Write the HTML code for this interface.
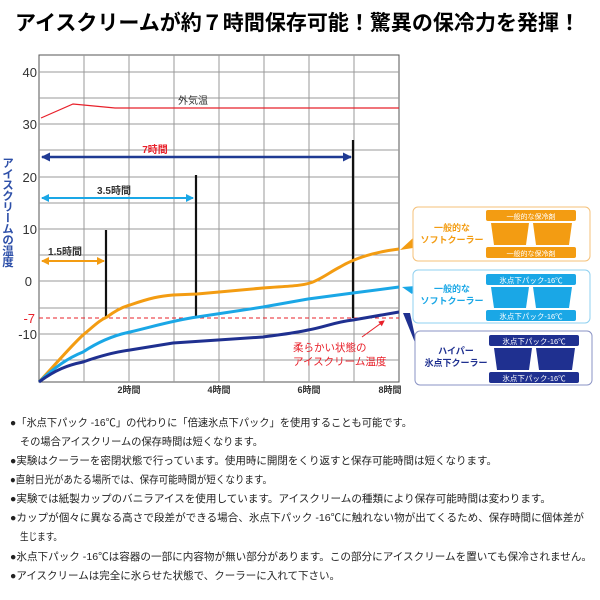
<!DOCTYPE html>
<html><head><meta charset="utf-8"><style>
html,body{margin:0;padding:0;background:#fff;width:600px;height:600px;overflow:hidden}
svg{display:block;font-family:"Liberation Sans","Noto Sans CJK JP",sans-serif}
</style></head><body>
<svg width="600" height="600" viewBox="0 0 600 600" xmlns="http://www.w3.org/2000/svg">
<defs>
<marker id="aN" markerUnits="userSpaceOnUse" markerWidth="9" markerHeight="9" refX="8" refY="4.5" orient="auto-start-reverse"><path d="M0,0L9,4.5L0,9z" fill="#1f3a93"/></marker>
<marker id="aB" markerUnits="userSpaceOnUse" markerWidth="8" markerHeight="8" refX="7" refY="4" orient="auto-start-reverse"><path d="M0,0L8,4L0,8z" fill="#1aa7e6"/></marker>
<marker id="aO" markerUnits="userSpaceOnUse" markerWidth="8" markerHeight="8" refX="7" refY="4" orient="auto-start-reverse"><path d="M0,0L8,4L0,8z" fill="#f39c12"/></marker>
<marker id="aR" markerUnits="userSpaceOnUse" markerWidth="6" markerHeight="6" refX="5" refY="3" orient="auto"><path d="M0,0L6,3L0,6z" fill="#e8202a"/></marker>
</defs>
<text x="15" y="30" font-size="21" font-weight="bold" textLength="565" lengthAdjust="spacingAndGlyphs">アイスクリームが約７時間保存可能！驚異の保冷力を発揮！</text>
<rect x="39" y="55" width="360" height="327" fill="#fff" stroke="#555" stroke-width="1"/>
<g stroke="#999" stroke-width="1">
<line x1="84" y1="55" x2="84" y2="382"/><line x1="129" y1="55" x2="129" y2="382"/><line x1="174" y1="55" x2="174" y2="382"/><line x1="219" y1="55" x2="219" y2="382"/><line x1="264" y1="55" x2="264" y2="382"/><line x1="309" y1="55" x2="309" y2="382"/><line x1="354" y1="55" x2="354" y2="382"/>
<line x1="39" y1="72" x2="399" y2="72"/><line x1="39" y1="98" x2="399" y2="98"/><line x1="39" y1="124" x2="399" y2="124"/><line x1="39" y1="150" x2="399" y2="150"/><line x1="39" y1="177" x2="399" y2="177"/><line x1="39" y1="203" x2="399" y2="203"/><line x1="39" y1="229" x2="399" y2="229"/><line x1="39" y1="255" x2="399" y2="255"/><line x1="39" y1="281" x2="399" y2="281"/><line x1="39" y1="308" x2="399" y2="308"/><line x1="39" y1="334" x2="399" y2="334"/><line x1="39" y1="360" x2="399" y2="360"/>
</g>
<g font-size="13" fill="#333" text-anchor="end">
<text x="37" y="77">40</text><text x="37" y="129">30</text><text x="37" y="182">20</text><text x="37" y="234">10</text><text x="32" y="286">0</text><text x="37" y="339">-10</text>
</g>
<text x="35" y="323" font-size="13" fill="#e8202a" text-anchor="end">-7</text>
<text x="7" y="157" font-size="11.5" fill="#2d4fa8" font-weight="bold" style="writing-mode:tb" letter-spacing="-0.5">アイスクリームの温度</text>
<g font-size="9" font-weight="bold" fill="#333" text-anchor="middle">
<text x="129" y="393">2時間</text><text x="219" y="393">4時間</text><text x="309" y="393">6時間</text><text x="390" y="393">8時間</text>
</g>
<polyline points="41,118 73,104 115,108 399,108" fill="none" stroke="#e8202a" stroke-width="1.2"/>
<text x="193" y="104" font-size="10" fill="#333" text-anchor="middle">外気温</text>
<line x1="39" y1="318" x2="399" y2="318" stroke="#e8202a" stroke-width="1" stroke-dasharray="4,3"/>
<line x1="42" y1="157" x2="351" y2="157" stroke="#1f3a93" stroke-width="2.5" marker-start="url(#aN)" marker-end="url(#aN)"/>
<text x="155" y="153" font-size="10" font-weight="bold" fill="#e8202a" text-anchor="middle">7時間</text>
<line x1="42" y1="198" x2="193" y2="198" stroke="#1aa7e6" stroke-width="2" marker-start="url(#aB)" marker-end="url(#aB)"/>
<text x="114" y="194" font-size="10" font-weight="bold" fill="#333" text-anchor="middle">3.5時間</text>
<line x1="42" y1="261" x2="104" y2="261" stroke="#f39c12" stroke-width="2" marker-start="url(#aO)" marker-end="url(#aO)"/>
<text x="65" y="255" font-size="10" font-weight="bold" fill="#333" text-anchor="middle">1.5時間</text>
<g stroke="#111" stroke-width="2.2">
<line x1="106" y1="230" x2="106" y2="318"/><line x1="196" y1="175" x2="196" y2="318"/><line x1="353" y1="140" x2="353" y2="318"/>
</g>
<path d="M39,382 C55,365 70,347 83,335 C95,325 100,320 107,317 C115,311 122,307 130,305 C150,298 160,296 173,295 L197,294 L263,288 C290,286 300,286 310,283 C320,280 330,272 340,267 C355,258 375,252 399,249" fill="none" stroke="#f39c12" stroke-width="3"/>
<path d="M39,382 C55,367 68,358 83,352 C95,344 110,336 130,332 C155,326 175,320 197,317 L263,307 L308,299 L353,293 L399,287" fill="none" stroke="#1aa7e6" stroke-width="3"/>
<path d="M39,382 C55,370 68,365 83,362 C100,356 115,352 130,350 L173,343 L218,340 L263,337 C285,334 295,333 308,330 C325,327 335,322 353,320 L399,312" fill="none" stroke="#1f3090" stroke-width="3"/>
<line x1="362" y1="337" x2="384" y2="321" stroke="#e8202a" stroke-width="1" marker-end="url(#aR)"/>
<text x="293" y="351" font-size="10.5" fill="#e8202a">柔らかい状態の</text>
<text x="293" y="365" font-size="10.5" fill="#e8202a">アイスクリーム温度</text>
<polygon points="400,250 413,238 413,248" fill="#f39c12"/>
<rect x="413" y="207" width="177" height="54" rx="5" fill="#fff" stroke="#f5c17a"/>
<text x="452" y="231" font-size="9" font-weight="bold" fill="#f39c12" text-anchor="middle">一般的な</text>
<text x="452" y="243" font-size="9" font-weight="bold" fill="#f39c12" text-anchor="middle">ソフトクーラー</text>
<rect x="486" y="210" width="90" height="11" rx="2" fill="#f39c12"/>
<path d="M491,223 H529 L526,245 H494Z M533,223 H572 L569,245 H536Z" fill="#f39c12"/>
<rect x="486" y="247" width="90" height="11" rx="2" fill="#f39c12"/>
<text x="531" y="219" font-size="7" fill="#fff" text-anchor="middle">一般的な保冷剤</text>
<text x="531" y="256" font-size="7" fill="#fff" text-anchor="middle">一般的な保冷剤</text>
<polygon points="402,287 416,286 412,294" fill="#1aa7e6"/>
<rect x="413" y="270" width="177" height="53" rx="5" fill="#fff" stroke="#8fd0f0"/>
<text x="452" y="292" font-size="9" font-weight="bold" fill="#1aa7e6" text-anchor="middle">一般的な</text>
<text x="452" y="304" font-size="9" font-weight="bold" fill="#1aa7e6" text-anchor="middle">ソフトクーラー</text>
<rect x="486" y="274" width="90" height="11" rx="2" fill="#1aa7e6"/>
<path d="M491,287 H529 L526,308 H494Z M533,287 H572 L569,308 H536Z" fill="#1aa7e6"/>
<rect x="486" y="310" width="90" height="11" rx="2" fill="#1aa7e6"/>
<text x="531" y="283" font-size="7.5" fill="#fff" text-anchor="middle">氷点下パック-16℃</text>
<text x="531" y="319" font-size="7.5" fill="#fff" text-anchor="middle">氷点下パック-16℃</text>
<polygon points="403,313 410,313 418,350" fill="#1f3090"/>
<rect x="415" y="331" width="177" height="54" rx="5" fill="#fff" stroke="#8a93c4"/>
<text x="456" y="354" font-size="9" font-weight="bold" fill="#1f3090" text-anchor="middle">ハイパー</text>
<text x="456" y="366" font-size="9" font-weight="bold" fill="#1f3090" text-anchor="middle">氷点下クーラー</text>
<rect x="489" y="335" width="90" height="11" rx="2" fill="#1f3090"/>
<path d="M494,348 H532 L529,370 H497Z M536,348 H575 L572,370 H539Z" fill="#1f3090"/>
<rect x="489" y="372" width="90" height="11" rx="2" fill="#1f3090"/>
<text x="534" y="344" font-size="7.5" fill="#fff" text-anchor="middle">氷点下パック-16℃</text>
<text x="534" y="381" font-size="7.5" fill="#fff" text-anchor="middle">氷点下パック-16℃</text>
<g font-size="10.5" fill="#222">
<text x="10" y="426" textLength="402" lengthAdjust="spacingAndGlyphs">●「氷点下パック -16℃」の代わりに「倍速氷点下パック」を使用することも可能です。</text>
<text x="20" y="445" textLength="243" lengthAdjust="spacingAndGlyphs">その場合アイスクリームの保存時間は短くなります。</text>
<text x="10" y="464" textLength="487" lengthAdjust="spacingAndGlyphs">●実験はクーラーを密閉状態で行っています。使用時に開閉をくり返すと保存可能時間は短くなります。</text>
<text x="10" y="483" textLength="262" lengthAdjust="spacingAndGlyphs">●直射日光があたる場所では、保存可能時間が短くなります。</text>
<text x="10" y="502" textLength="541" lengthAdjust="spacingAndGlyphs">●実験では紙製カップのバニラアイスを使用しています。アイスクリームの種類により保存可能時間は変わります。</text>
<text x="10" y="521" textLength="574" lengthAdjust="spacingAndGlyphs">●カップが個々に異なる高さで段差ができる場合、氷点下パック -16℃に触れない物が出てくるため、保存時間に個体差が</text>
<text x="20" y="540" textLength="42" lengthAdjust="spacingAndGlyphs">生じます。</text>
<text x="10" y="560" textLength="582" lengthAdjust="spacingAndGlyphs">●氷点下パック -16℃は容器の一部に内容物が無い部分があります。この部分にアイスクリームを置いても保冷されません。</text>
<text x="10" y="579" textLength="330" lengthAdjust="spacingAndGlyphs">●アイスクリームは完全に氷らせた状態で、クーラーに入れて下さい。</text>
</g>
</svg>
</body></html>
